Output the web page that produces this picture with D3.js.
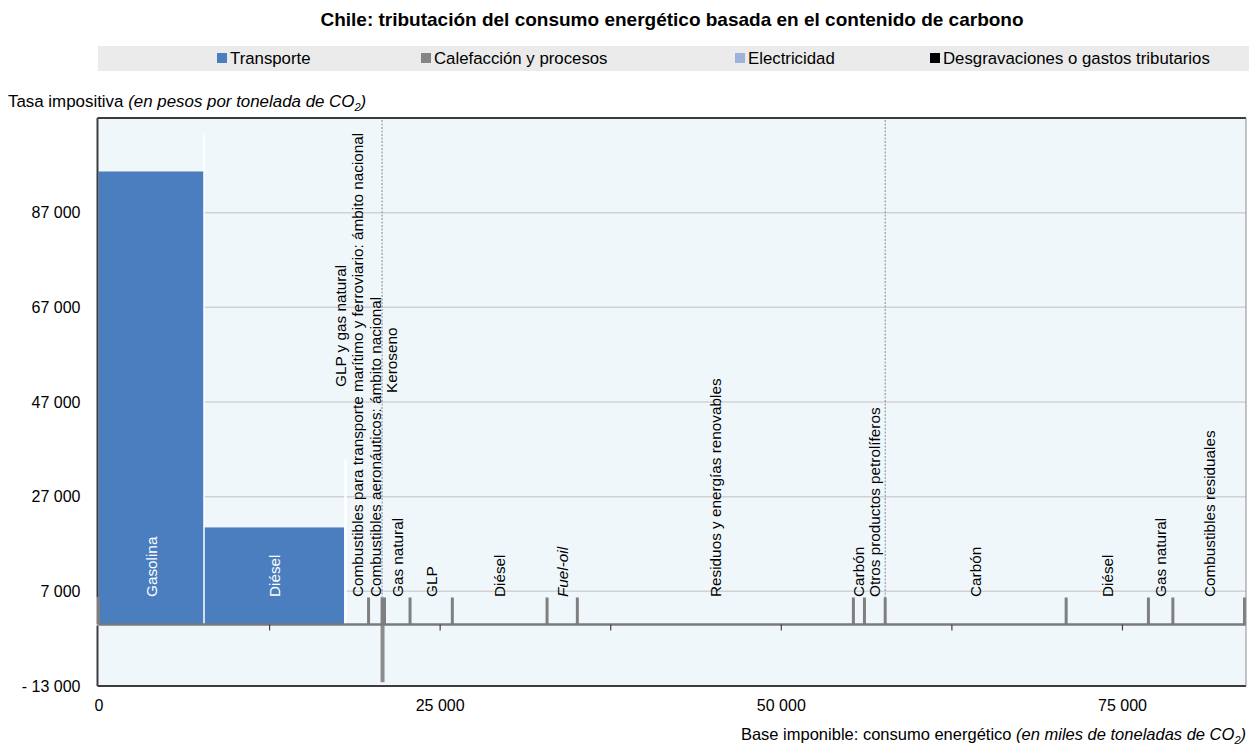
<!DOCTYPE html>
<html><head><meta charset="utf-8">
<script src="https://cdn.jsdelivr.net/npm/d3@7"></script>
<style>
body{margin:0;background:#fff}
text{font-family:"Liberation Sans",Arial,Helvetica,sans-serif}
</style>
</head><body>
<svg id="chart" width="1249" height="746"></svg>
<script>
// ---------------- DATA ----------------
const categories = [
  "Gasolina", "Diésel", "GLP y gas natural",
  "Combustibles para transporte marítimo y ferroviario: ámbito nacional",
  "Combustibles aeronáuticos: ámbito nacional",
  "Keroseno", "Gas natural", "GLP", "Diésel", "Fuel-oil",
  "Residuos y energías renovables", "Carbón", "Otros productos petrolíferos",
  "Carbón", "Diésel", "Gas natural", "Combustibles residuales"
];
const sectors = [
  "Transporte", "Transporte", "Transporte", "Transporte", "Transporte",
  "Calefacción y procesos", "Calefacción y procesos", "Calefacción y procesos",
  "Calefacción y procesos", "Calefacción y procesos", "Calefacción y procesos",
  "Calefacción y procesos", "Calefacción y procesos",
  "Electricidad", "Electricidad", "Electricidad", "Electricidad"
];
// tax base: thousand tonnes of CO2
const taxBase = [7730, 10260, 220, 1580, 990, 180, 1870, 3100, 6940, 2220, 20230, 810, 1520, 13260, 6030, 1790, 5300];
// tax rate: pesos per tonne of CO2
const taxRate = [95700, 20500, 0, 0, 0, -12200, 0, 0, 0, 0, 0, 0, 0, 0, 0, 0, 0];
// segments that end with a grey divider
const dividerAtEnd = [0, 0, 0, 1, 1, 1, 1, 1, 1, 1, 1, 1, 1, 1, 1, 1, 1];
const dividerRate = 5700;
// white rules at the end of these segments (top value)
const whiteRuleTop = [103500, 34900, null, null, null, null, null, null, null, null, null, null, null, null, null, null, null];
const italicLabels = ["Fuel-oil"];

const legendNames = ["Transporte", "Calefacción y procesos", "Electricidad", "Desgravaciones o gastos tributarios"];
const legendColors = ["#4a7ebf", "#858585", "#9db3dc", "#000000"];

const yTickValues = [-13000, 7000, 27000, 47000, 67000, 87000];
const xLabelValues = [0, 25000, 50000, 75000];
const xTickMarks = [12500, 25000, 37500, 50000, 62500, 75000];
const xDomain = [0, 84090];
const yDomain = [-13000, 107000];

// ---------------- LAYOUT ----------------
const W = 1249, H = 746;
const L = 98.5, R = 1246, T = 118, B = 686;
const svg = d3.select("#chart");
svg.append("rect").attr("width", W).attr("height", H).attr("fill", "#fff");

const x = d3.scaleLinear().domain(xDomain).range([L, R]);
const y = d3.scaleLinear().domain(yDomain).range([B, T]);

const sectorColor = d3.scaleOrdinal().domain(legendNames).range(legendColors);

// segments
let acc = 0;
const segs = categories.map((c, i) => {
  const s = { name: c, sector: sectors[i], x0: acc, x1: acc + taxBase[i], rate: taxRate[i], i };
  acc += taxBase[i];
  return s;
});

const loc = d3.formatLocale({ decimal: ",", thousands: " ", grouping: [3], currency: ["", ""] });
const f0 = loc.format(",d");
const fmt = v => v < 0 ? "- " + f0(-v) : f0(v);

// title
svg.append("text").attr("x", 672).attr("y", 26).attr("text-anchor", "middle")
  .attr("font-weight", "bold").attr("font-size", 19).attr("fill", "#000")
  .text("Chile: tributación del consumo energético basada en el contenido de carbono");

// legend
svg.append("rect").attr("x", 98).attr("y", 46).attr("width", 1151).attr("height", 25).attr("fill", "#ebebeb");
const legendX = [217, 421, 735, 930];
const lg = svg.append("g").selectAll("g").data(legendNames).join("g")
  .attr("transform", (d, i) => `translate(${legendX[i]},0)`);
lg.append("rect").attr("x", 0).attr("y", 53).attr("width", 10).attr("height", 10).attr("fill", d => sectorColor(d));
lg.append("text").attr("x", 13).attr("y", 64).attr("font-size", 16.8).attr("fill", "#000").text(d => d);

// y title
const yt = svg.append("text").attr("x", 8).attr("y", 107).attr("font-size", 16.9).attr("fill", "#000");
yt.append("tspan").text("Tasa impositiva ");
yt.append("tspan").attr("font-style", "italic").text("(en pesos por tonelada de CO");
yt.append("tspan").attr("font-style", "italic").attr("font-size", 11).attr("dy", 4).text("2");
yt.append("tspan").attr("font-style", "italic").attr("dy", -4).text(")");

// plot background
svg.append("rect").attr("x", L).attr("y", T).attr("width", R - L).attr("height", B - T).attr("fill", "#eff7fb");

// gridlines
svg.append("g").selectAll("line").data(yTickValues.filter(v => v > yDomain[0])).join("line")
  .attr("x1", L).attr("x2", R).attr("y1", d => y(d)).attr("y2", d => y(d))
  .attr("stroke", "#d2d2d2").attr("stroke-width", 1.5);

// sector separators (dotted)
const sectorEnds = [];
for (let i = 0; i < segs.length - 1; i++) if (segs[i].sector !== segs[i + 1].sector) sectorEnds.push(segs[i].x1);
svg.append("g").selectAll("line").data(sectorEnds).join("line")
  .attr("x1", d => x(d)).attr("x2", d => x(d)).attr("y1", T + 2).attr("y2", y(0))
  .attr("stroke", "#8a8a8a").attr("stroke-width", 1).attr("stroke-dasharray", "2,1.5");

// positive bars
svg.append("g").selectAll("rect").data(segs.filter(s => s.rate > 0)).join("rect")
  .attr("x", s => x(s.x0)).attr("width", s => x(s.x1) - x(s.x0))
  .attr("y", s => y(s.rate)).attr("height", s => y(0) - y(s.rate))
  .attr("fill", s => sectorColor(s.sector));

// white rules
svg.append("g").selectAll("line").data(segs.filter(s => whiteRuleTop[s.i] != null)).join("line")
  .attr("x1", s => x(s.x1) + (s.i === 1 ? 1.5 : 0)).attr("x2", s => x(s.x1) + (s.i === 1 ? 1.5 : 0))
  .attr("y1", s => y(whiteRuleTop[s.i])).attr("y2", y(0))
  .attr("stroke", "#fff").attr("stroke-width", s => s.i === 1 ? 2.5 : 1.5);

// negative bars (drawn in the heating grey)
svg.append("g").selectAll("rect").data(segs.filter(s => s.rate < 0)).join("rect")
  .attr("x", s => x(s.x0) - 1.5).attr("width", s => Math.max(3.5, x(s.x1) - x(s.x0) + 1.5))
  .attr("y", y(0)).attr("height", s => y(s.rate) - y(0))
  .attr("fill", "#8c8c8c");

// dividers
const divX = [0].concat(segs.filter(s => dividerAtEnd[s.i]).map(s => s.x1));
svg.append("g").selectAll("line").data(divX).join("line")
  .attr("x1", d => Math.min(x(d), R - 1.5)).attr("x2", d => Math.min(x(d), R - 1.5))
  .attr("y1", y(dividerRate)).attr("y2", y(0))
  .attr("stroke", "#7f7f7f").attr("stroke-width", 3);

// zero axis line
svg.append("line").attr("x1", L).attr("x2", R).attr("y1", y(0)).attr("y2", y(0))
  .attr("stroke", "#7a7a7a").attr("stroke-width", 2.5);

// minor tick marks under the zero line
const tickAxis = d3.axisBottom(x).tickValues(xTickMarks).tickSize(6).tickFormat("");
const tg = svg.append("g").attr("transform", `translate(0,${y(0)})`).call(tickAxis);
tg.select(".domain").remove();
tg.selectAll(".tick line").attr("stroke", "#444").attr("stroke-width", 1.2);

// frame
svg.append("line").attr("x1", L - 1).attr("x2", R).attr("y1", T).attr("y2", T).attr("stroke", "#3c3c3c").attr("stroke-width", 2);
svg.append("line").attr("x1", L - 1).attr("x2", R).attr("y1", B).attr("y2", B).attr("stroke", "#3c3c3c").attr("stroke-width", 2);
svg.append("line").attr("x1", R).attr("x2", R).attr("y1", T).attr("y2", B).attr("stroke", "#8c8c8c").attr("stroke-width", 1);
svg.append("line").attr("x1", L - 1).attr("x2", L - 1).attr("y1", T).attr("y2", y(dividerRate)).attr("stroke", "#3c3c3c").attr("stroke-width", 2);
svg.append("line").attr("x1", L - 1).attr("x2", L - 1).attr("y1", y(0) + 1).attr("y2", B).attr("stroke", "#3c3c3c").attr("stroke-width", 2);
svg.append("line").attr("x1", L - 1).attr("x2", L - 1).attr("y1", y(dividerRate)).attr("y2", y(0)).attr("stroke", "#7f7f7f").attr("stroke-width", 2);

// y axis labels
const ya = d3.axisLeft(y).tickValues(yTickValues).tickSize(0).tickPadding(18).tickFormat(fmt);
const yg = svg.append("g").attr("transform", `translate(${L},0)`).call(ya);
yg.select(".domain").remove();
yg.selectAll("text").attr("font-size", 16).attr("fill", "#000").attr("font-family", '"Liberation Sans",Arial,sans-serif');

// x axis labels
const xa = d3.axisBottom(x).tickValues(xLabelValues).tickSize(0).tickPadding(14).tickFormat(fmt);
const xg = svg.append("g").attr("transform", `translate(0,${B})`).call(xa);
xg.select(".domain").remove();
xg.selectAll("text").attr("font-size", 16).attr("fill", "#000").attr("font-family", '"Liberation Sans",Arial,sans-serif');

// x title
const xt = svg.append("text").attr("x", 1246).attr("y", 740).attr("text-anchor", "end").attr("font-size", 16.5).attr("fill", "#000");
xt.append("tspan").text("Base imponible: consumo energético ");
xt.append("tspan").attr("font-style", "italic").text("(en miles de toneladas de CO");
xt.append("tspan").attr("font-style", "italic").attr("font-size", 11).attr("dy", 4).text("2");
xt.append("tspan").attr("font-style", "italic").attr("dy", -4).text(")");

// segment labels (rotated)
const labelShift = { 2: { dx: -5, bottom: 387 }, 5: { dx: 8, bottom: 393 } };
const lblG = svg.append("g");
segs.forEach(s => {
  const sh = labelShift[s.i];
  const cx = (x(s.x0) + x(s.x1)) / 2 + (sh ? sh.dx : 0);
  const by = sh ? sh.bottom : y(dividerRate) - 0.5;
  lblG.append("text")
    .attr("transform", `translate(${cx},${by}) rotate(-90)`)
    .attr("dy", "0.36em")
    .attr("font-size", 15.3)
    .attr("font-style", italicLabels.includes(s.name) ? "italic" : null)
    .attr("fill", s.rate > 0 ? "#fff" : "#000")
    .text(s.name);
});
</script>
</body></html>
